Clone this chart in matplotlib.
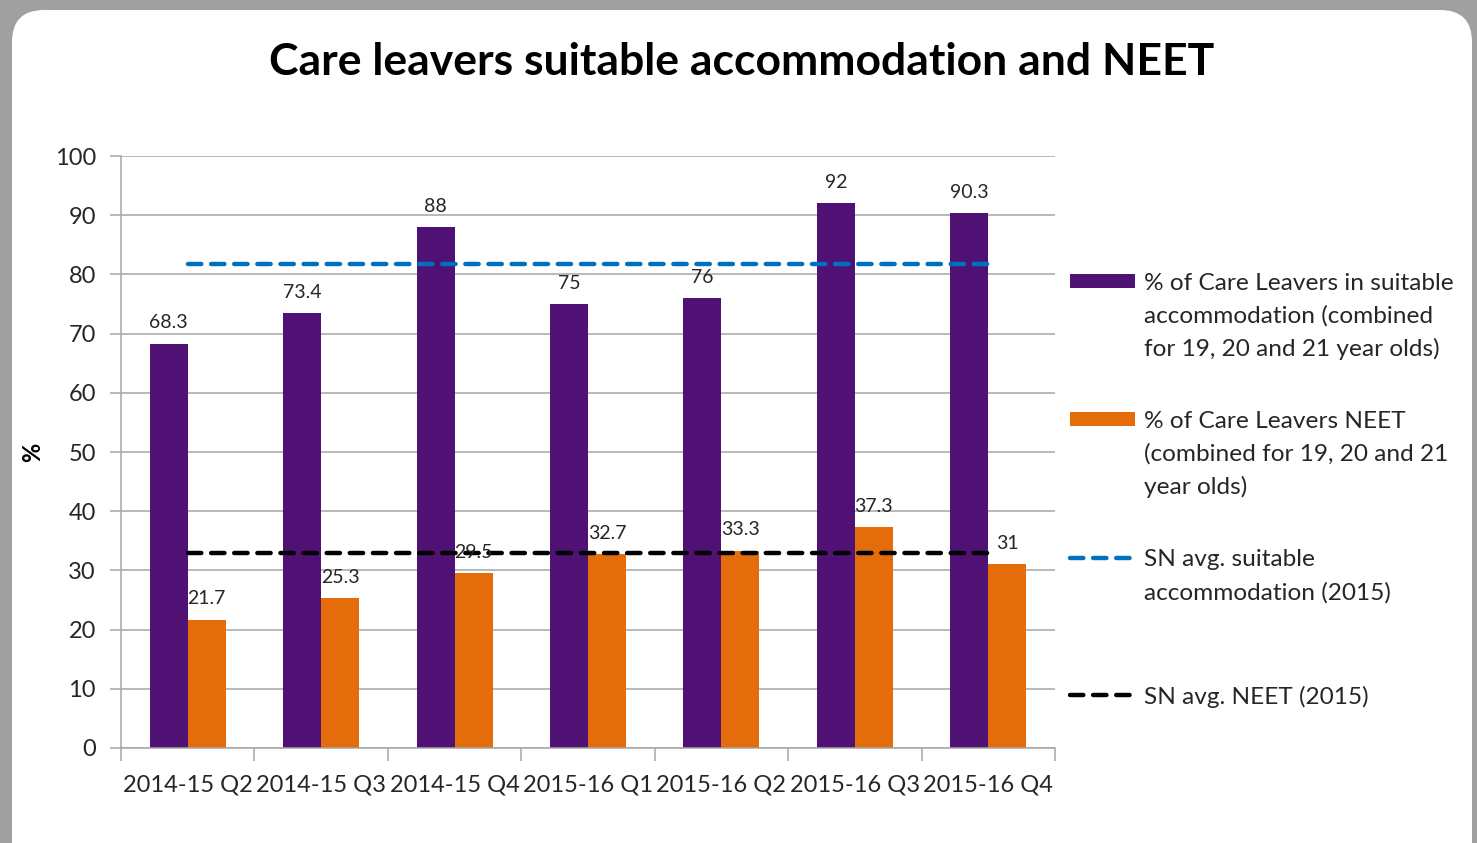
import numpy as np
import matplotlib.pyplot as plt
from matplotlib.patches import FancyBboxPatch
from matplotlib.lines import Line2D
from matplotlib.patches import Rectangle

plt.rcParams["font.family"] = ["Lato", "DejaVu Sans"]

quarters = ["2014-15 Q2", "2014-15 Q3", "2014-15 Q4", "2015-16 Q1",
            "2015-16 Q2", "2015-16 Q3", "2015-16 Q4"]
suitable = [68.3, 73.4, 88, 75, 76, 92, 90.3]
neet = [21.7, 25.3, 29.5, 32.7, 33.3, 37.3, 31]
sn_suitable = [81.8] * 7
sn_neet = [32.9] * 7

legend_labels = [
    "% of Care Leavers in suitable\naccommodation (combined\nfor 19, 20 and 21 year olds)",
    "% of Care Leavers NEET\n(combined for 19, 20 and 21\nyear olds)",
    "SN avg. suitable\naccommodation (2015)",
    "SN avg. NEET (2015)",
]

purple = "#4F1174"
orange = "#E46C0A"
blue = "#0070C0"
grid_col = "#A6A6A6"
text_col = "#262626"

W, H = 1477, 843
fig = plt.figure(figsize=(W / 100, H / 100), dpi=100)

# background frame
bg = fig.add_axes([0, 0, 1, 1])
bg.set_xlim(0, W)
bg.set_ylim(H, 0)
bg.axis("off")
bg.add_patch(Rectangle((0, 0), W, H, facecolor="#A0A0A0", edgecolor="none"))
bg.add_patch(FancyBboxPatch((42, 40), W - 42 - 35, H,
                            boxstyle="round,pad=30,rounding_size=32",
                            facecolor="white", edgecolor="none"))

ax = fig.add_axes([121 / W, 1 - 748 / H, (1055 - 121) / W, (748 - 156) / H])
ax.set_facecolor("none")
x = np.arange(len(quarters))
w = 0.285

b1 = ax.bar(x - w / 2, suitable, w, color=purple, zorder=2)
b2 = ax.bar(x + w / 2, neet, w, color=orange, zorder=2)
ax.plot(x, sn_suitable, color=blue, lw=3.2, ls=(0, (3, 2.2)),
        dash_capstyle="round", zorder=3)
ax.plot(x, sn_neet, color="black", lw=3.2, ls=(0, (3, 2.2)),
        dash_capstyle="round", zorder=3)

for bars, vals in ((b1, suitable), (b2, neet)):
    for b, v in zip(bars, vals):
        ax.annotate(f"{v:g}", (b.get_x() + b.get_width() / 2, v),
                    xytext=(0, 9), textcoords="offset points",
                    ha="center", va="bottom", fontsize=14, color=text_col,
                    zorder=4)

ax.set_xlim(-0.5, len(quarters) - 0.5)
ax.set_ylim(0, 100)
ax.set_yticks(range(0, 101, 10))
ax.yaxis.grid(True, color=grid_col, lw=1.1, zorder=0)
ax.set_axisbelow(True)
ax.set_xticks(x)
ax.set_xticklabels(quarters)
ax.set_xticks(np.arange(-0.5, len(quarters)), minor=True)
ax.tick_params(axis="x", which="major", length=0, pad=19, labelsize=17,
               labelcolor=text_col)
ax.tick_params(axis="x", which="minor", length=9, color=grid_col, width=1.1)
ax.tick_params(axis="y", length=8, color=grid_col, width=1.1, pad=10,
               labelsize=17, labelcolor=text_col)
for s in ("top", "right"):
    ax.spines[s].set_visible(False)
for s in ("left", "bottom"):
    ax.spines[s].set_color(grid_col)
    ax.spines[s].set_linewidth(1.1)

ax.set_ylabel("%", fontsize=17, fontweight="bold", va="center")
ax.yaxis.set_label_coords((33 - 121) / (1055 - 121), 0.5)

fig.text(742 / W, 1 - 62 / H, "Care leavers suitable accommodation and NEET",
         ha="center", va="center", fontsize=32, fontweight="bold", color="black")

# legend, drawn by hand so that each key sits on the first text line
handles = [("bar", purple), ("bar", orange), ("line", blue), ("line", "black")]
first_line_y = [281, 419, 558, 695]
for (kind, col), lab, yy in zip(handles, legend_labels, first_line_y):
    if kind == "bar":
        bg.add_patch(Rectangle((1070, yy - 7), 65, 14, facecolor=col,
                               edgecolor="none"))
    else:
        bg.add_line(Line2D([1070, 1137], [yy, yy], color=col, lw=3.2,
                           ls=(0, (3, 2.2)), dash_capstyle="round"))
    for i, line in enumerate(lab.split("\n")):
        bg.text(1144, yy + 33 * i, line, ha="left", va="center_baseline",
                fontsize=17.6, color=text_col)

fig.savefig("out.png", dpi=100)
